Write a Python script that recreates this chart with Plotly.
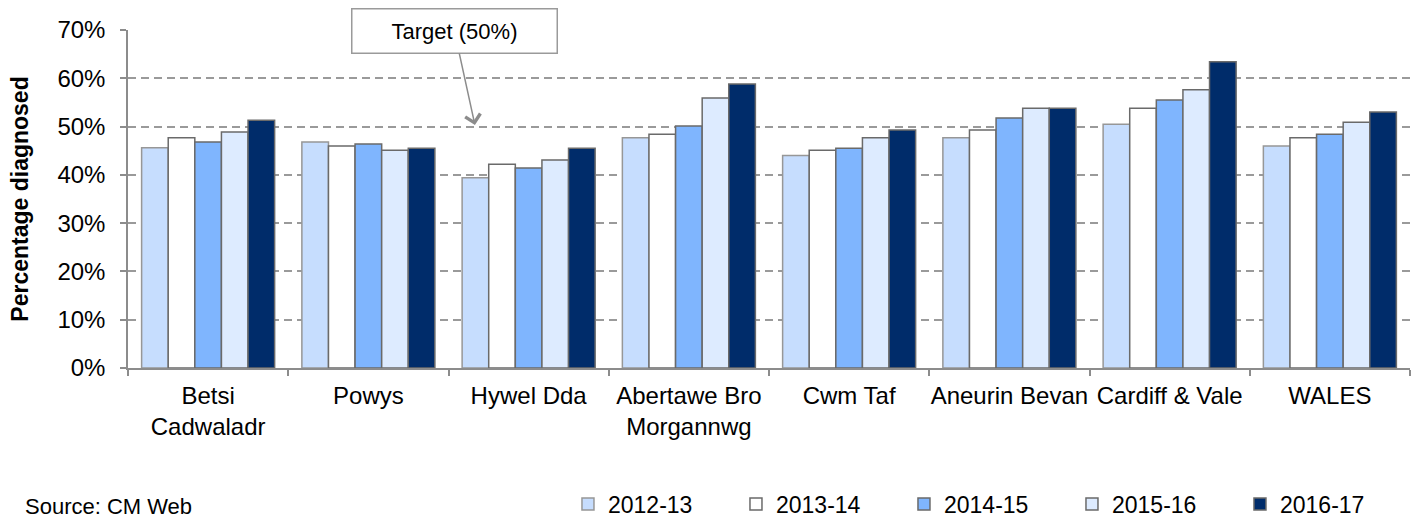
import plotly.graph_objects as go

categories = ["Betsi<br>Cadwaladr", "Powys", "Hywel Dda", "Abertawe Bro<br>Morgannwg",
              "Cwm Taf", "Aneurin Bevan", "Cardiff & Vale", "WALES"]
years = ["2012-13", "2013-14", "2014-15", "2015-16", "2016-17"]

v_2012_13 = [45.6, 46.8, 39.4, 47.7, 44.0, 47.7, 50.5, 46.0]
v_2013_14 = [47.7, 46.0, 42.2, 48.4, 45.1, 49.3, 53.8, 47.7]
v_2014_15 = [46.8, 46.4, 41.4, 50.1, 45.5, 51.8, 55.5, 48.4]
v_2015_16 = [48.9, 45.1, 43.1, 55.9, 47.7, 53.8, 57.6, 50.9]
v_2016_17 = [51.3, 45.5, 45.5, 58.8, 49.3, 53.8, 63.4, 53.0]
series = [v_2012_13, v_2013_14, v_2014_15, v_2015_16, v_2016_17]

fills = ["#C6DDFE", "#FFFFFF", "#7FB5FE", "#DDEBFF", "#002C6A"]
edges = ["#979797", "#6A6A6A", "#6A6A6A", "#6A6A6A", "#6A6A6A"]

FONT = "Liberation Sans, Arial, sans-serif"

fig = go.Figure()
for name, vals, fc, ec in zip(years, series, fills, edges):
    fig.add_trace(go.Bar(
        x=categories, y=vals, name=name,
        marker=dict(color=fc, line=dict(color=ec, width=1.5)),
    ))

fig.update_layout(
    width=1421, height=518,
    margin=dict(l=128, r=11, t=30, b=150, autoexpand=False),
    paper_bgcolor="white", plot_bgcolor="white",
    barmode="group", bargap=0.17, bargroupgap=0,
    font=dict(family=FONT, size=24, color="#000000"),
    showlegend=True,
    legend=dict(
        orientation="h", xref="container", yref="container",
        x=0.3997, xanchor="left", y=0.027, yanchor="middle",
        entrywidth=123, entrywidthmode="pixels", itemwidth=30,
        font=dict(family=FONT, size=23, color="#000000"),
        traceorder="normal", bgcolor="rgba(0,0,0,0)",
    ),
    xaxis=dict(
        type="category", showgrid=False, showline=True, linecolor="#8C8C8C", linewidth=1.5,
        ticks="outside", tickson="boundaries", ticklen=6, tickcolor="#8C8C8C", tickwidth=1.5,
        tickangle=0, ticklabelstandoff=5,
        tickfont=dict(family=FONT, size=24, color="#000000"),
        automargin=False,
    ),
    yaxis=dict(
        range=[0, 70], dtick=10, ticksuffix="%",
        showgrid=True, gridcolor="#9A9A9A", gridwidth=1.5, griddash="8px,5px",
        zeroline=False, showline=True, linecolor="#8C8C8C", linewidth=1.5,
        ticks="outside", ticklen=6, tickcolor="#8C8C8C", tickwidth=1.5,
        ticklabelstandoff=10,
        tickfont=dict(family=FONT, size=24, color="#000000"),
        title=dict(text="<b>Percentage diagnosed</b>", standoff=22,
                   font=dict(family=FONT, size=23, color="#000000")),
        automargin=False,
    ),
)

fig.add_annotation(
    x=1.665, y=50.3, xref="x", yref="y",
    text="Target (50%)", showarrow=True,
    ax=-20.5, ay=-94, axref="pixel", ayref="pixel",
    arrowhead=4, arrowsize=2, arrowwidth=1.5, arrowcolor="#8C8C8C",
    width=204, height=43, borderpad=0,
    bordercolor="#9A9A9A", borderwidth=1.5, bgcolor="white",
    font=dict(family=FONT, size=22, color="#000000"),
)

fig.add_annotation(
    x=-0.082, y=-0.41, xref="paper", yref="paper",
    xanchor="left", yanchor="middle", showarrow=False,
    text="Source: CM Web",
    font=dict(family=FONT, size=22, color="#000000"),
)

fig.write_html("out.html", config={"displayModeBar": False},
               post_script="document.body.style.margin='0';")
